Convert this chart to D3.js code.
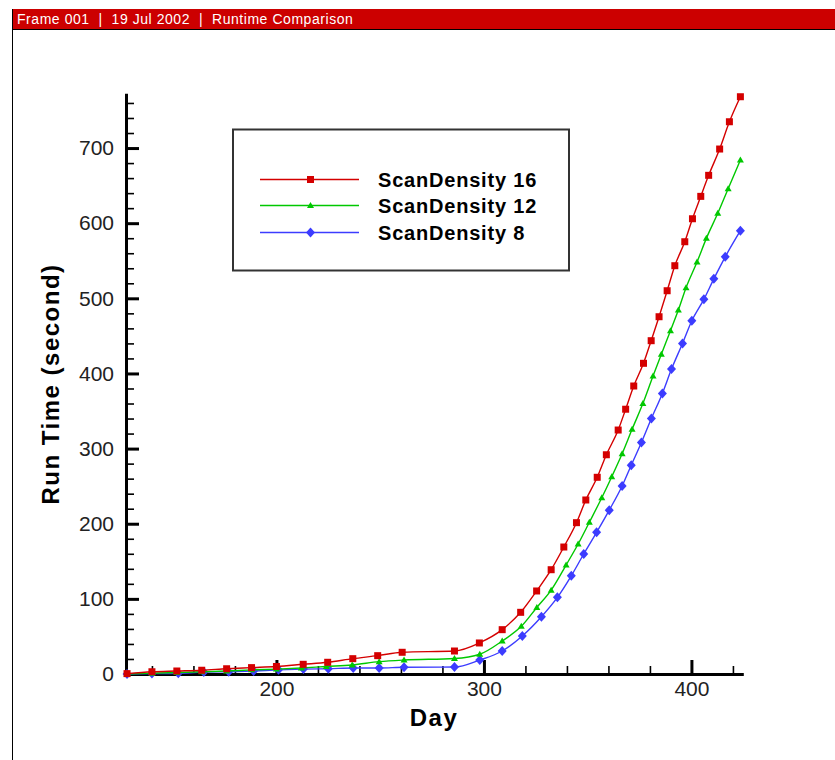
<!DOCTYPE html>
<html>
<head>
<meta charset="utf-8">
<script src="https://cdn.jsdelivr.net/npm/d3@7"></script>
<style>
  body { margin: 0; background: #fff; }
  svg { display: block; }
</style>
</head>
<body>
<div id="graph_container"></div>
<script>
// run time per day, one pair of arrays per scan density
var days16 = [128, 140, 152, 164, 176, 188, 200, 212.9, 224.7, 236.8, 248.8, 260.6, 285.8, 297.8, 308.8, 317.7, 325.4, 332.4, 338.5, 344.6, 349.1, 354.6, 359.0, 364.7, 368.3, 372.2, 376.9, 380.6, 384.4, 388.3, 392.0, 396.8, 400.5, 404.5, 408.3, 413.6, 418.3, 423.6];
var time16 = [0.5, 3, 4, 5, 7, 8.5, 10, 12.9, 15.6, 20.4, 24.4, 28.9, 30.6, 41.3, 59, 82.1, 110.5, 138.8, 169, 201.4, 231.6, 261.8, 291.8, 324.7, 352.4, 383.3, 413.5, 443.6, 475.5, 510.1, 543.4, 575.3, 605.9, 635.7, 663.7, 698.7, 735, 768.3];

var days12 = [128, 140, 152, 164, 176, 188, 200, 212, 224, 236.5, 249.5, 261.5, 285.8, 298, 308.8, 318, 325.5, 332.4, 339.6, 345.4, 350.8, 356.8, 361.6, 366.6, 371.4, 376.6, 381.5, 385.5, 389.9, 393.7, 397.4, 402.7, 407.2, 412.7, 417.7, 423.6];
var time12 = [0, 1, 2, 3, 4, 5.5, 6.5, 8, 10, 12, 16.4, 18.6, 20.6, 26.3, 43.9, 63.4, 88.6, 111.6, 145, 173, 201.9, 234.6, 262.6, 293.2, 325.7, 360, 396.6, 425.5, 456.9, 484.4, 514.1, 548.3, 579.8, 613.1, 645.9, 684];

var days8 = [128, 140, 152.7, 165, 177, 189, 201, 213, 225, 237, 249.5, 261.5, 285.8, 298, 308.8, 318.5, 327.7, 335.4, 342.1, 348.1, 354.3, 360.4, 366.6, 371, 375.9, 380.7, 386, 390.4, 395.7, 400.2, 406, 410.8, 416.3, 423.6];
var time8 = [0, 0.5, 1, 2.5, 3, 4, 5.5, 6.5, 7, 8, 8, 9, 9.3, 18.6, 30.6, 50.6, 76.2, 102, 130.7, 159.7, 188.5, 218.1, 250.2, 277.9, 308.1, 340, 373.4, 405.8, 440, 470.1, 498.6, 525.9, 555.2, 590];

var series_names = ['ScanDensity 16', 'ScanDensity 12', 'ScanDensity 8'];
var series_colors = ['#d40000', '#00c800', '#3c3cff'];
var series_shapes = ['square', 'triangle', 'diamond'];

var x_major = [200, 300, 400];
var x_minor = [140, 160, 180, 220, 240, 260, 280, 320, 340, 360, 380, 420];
var y_major = [0, 100, 200, 300, 400, 500, 600, 700];
var y_minor = [20, 40, 60, 80, 120, 140, 160, 180, 220, 240, 260, 280, 320, 340, 360, 380, 420, 440, 460, 480, 520, 540, 560, 580, 620, 640, 660, 680, 720, 740, 760];

var header_text = 'Frame 001  |  19 Jul 2002  |  Runtime Comparison';
var x_title = 'Day';
var y_title = 'Run Time (second)';

var w = 835;
var h = 760;

var svg = d3.select('#graph_container')
            .append('svg')
            .attr('width', w)
            .attr('height', h);

// frame + header bar
svg.append('rect')
   .attr('x', 12).attr('y', 9)
   .attr('width', w - 12).attr('height', 20)
   .attr('fill', '#cc0000');
svg.append('line')
   .attr('x1', 12.5).attr('x2', 12.5)
   .attr('y1', 9).attr('y2', h)
   .attr('stroke', '#000').attr('stroke-width', 1);
svg.append('line')
   .attr('x1', 12).attr('x2', w)
   .attr('y1', 29.5).attr('y2', 29.5)
   .attr('stroke', '#000').attr('stroke-width', 1);
svg.append('text')
   .attr('x', 17).attr('y', 24)
   .attr('fill', '#fff')
   .attr('font-family', 'Liberation Sans, Arial, sans-serif')
   .attr('font-size', 14)
   .attr('letter-spacing', 0.55)
   .style('white-space', 'pre')
   .text(header_text);

var xScale = d3.scaleLinear()
               .domain([127.5, 425])
               .range([126, 743.3]);
var yScale = d3.scaleLinear()
               .domain([0, 773])
               .range([674, 93.2]);

var tickFont = 'Liberation Sans, Arial, sans-serif';

// x axis, ticks point up into the plot
var xAxis = d3.axisBottom(xScale)
              .tickValues(x_major)
              .tickSizeInner(-14)
              .tickSizeOuter(0)
              .tickPadding(6);
var gx = svg.append('g')
            .attr('transform', 'translate(0,' + yScale(0) + ')')
            .call(xAxis);
gx.select('.domain').attr('stroke-width', 3);
gx.selectAll('.tick line').attr('stroke-width', 3);
gx.selectAll('.tick text')
  .attr('font-family', tickFont)
  .attr('font-size', 21)
  .attr('fill', '#222')
  .attr('dy', '0.78em');

var gxm = svg.append('g')
             .attr('transform', 'translate(0,' + yScale(0) + ')')
             .call(d3.axisBottom(xScale).tickValues(x_minor).tickSizeInner(-8).tickSizeOuter(0).tickFormat(''));
gxm.select('.domain').remove();
gxm.selectAll('.tick line').attr('stroke-width', 1.6);

// y axis, ticks point right into the plot
var yAxis = d3.axisLeft(yScale)
              .tickValues(y_major)
              .tickSizeInner(-13)
              .tickSizeOuter(0)
              .tickPadding(12);
var gy = svg.append('g')
            .attr('transform', 'translate(' + xScale(127.5) + ',0)')
            .call(yAxis);
gy.select('.domain').attr('stroke-width', 3);
gy.selectAll('.tick line').attr('stroke-width', 3);
gy.selectAll('.tick text')
  .attr('font-family', tickFont)
  .attr('font-size', 21)
  .attr('fill', '#222');

var gym = svg.append('g')
             .attr('transform', 'translate(' + xScale(127.5) + ',0)')
             .call(d3.axisLeft(yScale).tickValues(y_minor).tickSizeInner(-8).tickSizeOuter(0).tickFormat(''));
gym.select('.domain').remove();
gym.selectAll('.tick line').attr('stroke-width', 1.6);

// axis titles
svg.append('text')
   .attr('x', 434).attr('y', 726)
   .attr('text-anchor', 'middle')
   .attr('font-family', 'Liberation Sans, Arial, sans-serif')
   .attr('font-weight', 'bold')
   .attr('font-size', 24)
   .attr('letter-spacing', 1.5)
   .text(x_title);
svg.append('text')
   .attr('transform', 'translate(59,384) rotate(-90)')
   .attr('text-anchor', 'middle')
   .attr('font-family', 'Liberation Sans, Arial, sans-serif')
   .attr('font-weight', 'bold')
   .attr('font-size', 24)
   .attr('letter-spacing', 1.5)
   .text(y_title);

function marker(g, shape, color, cx, cy) {
  if (shape == 'square') {
    g.append('rect')
     .attr('x', cx - 3.5).attr('y', cy - 3.5)
     .attr('width', 7).attr('height', 7)
     .attr('fill', color);
  } else if (shape == 'triangle') {
    g.append('path')
     .attr('d', 'M' + cx + ',' + (cy - 3.5) + 'L' + (cx + 3.5) + ',' + (cy + 2.5) + 'L' + (cx - 3.5) + ',' + (cy + 2.5) + 'Z')
     .attr('fill', color);
  } else {
    g.append('path')
     .attr('d', 'M' + cx + ',' + (cy - 5) + 'L' + (cx + 4.5) + ',' + cy + 'L' + cx + ',' + (cy + 5) + 'L' + (cx - 4.5) + ',' + cy + 'Z')
     .attr('fill', color);
  }
}

var all_days = [days16, days12, days8];
var all_times = [time16, time12, time8];

var line = d3.line()
             .x(function(d) { return xScale(d[0]); })
             .y(function(d) { return yScale(d[1]); })
             .curve(d3.curveMonotoneX);

// draw back to front: 8, 12, 16
for (i = 2; i >= 0; i--) {
  var data = d3.zip(all_days[i], all_times[i]);
  var g = svg.append('g').attr('class', 'series_' + i);
  g.append('path')
   .datum(data)
   .attr('fill', 'none')
   .attr('stroke', series_colors[i])
   .attr('stroke-width', 1.4)
   .attr('stroke-linejoin', 'round')
   .attr('d', line);
  for (j = 0; j < data.length; j++) {
    marker(g, series_shapes[i], series_colors[i], xScale(data[j][0]), yScale(data[j][1]));
  }
}

// legend
var legend = svg.append('g');
legend.append('rect')
      .attr('x', 233).attr('y', 129.5)
      .attr('width', 336).attr('height', 141)
      .attr('fill', '#fff')
      .attr('stroke', '#333')
      .attr('stroke-width', 2);
var rows = [179.5, 205.5, 232.5];
for (i = 0; i < 3; i++) {
  legend.append('line')
        .attr('x1', 260).attr('x2', 359)
        .attr('y1', rows[i]).attr('y2', rows[i])
        .attr('stroke', series_colors[i])
        .attr('stroke-width', 1.6);
  marker(legend, series_shapes[i], series_colors[i], 310.5, rows[i]);
  legend.append('text')
        .attr('x', 378).attr('y', rows[i])
        .attr('dy', '0.36em')
        .attr('font-family', 'Liberation Sans, Arial, sans-serif')
        .attr('font-weight', 'bold')
        .attr('font-size', 20)
        .attr('letter-spacing', 0.8)
        .text(series_names[i]);
}
</script>
</body>
</html>
